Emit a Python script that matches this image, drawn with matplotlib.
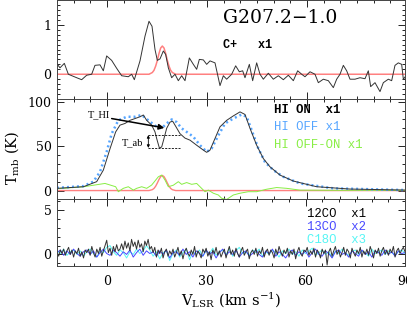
import numpy as np
import matplotlib
matplotlib.use("Agg")
import matplotlib.pyplot as plt
from matplotlib.ticker import MultipleLocator

plt.rcParams['font.family'] = ['DejaVu Serif']
plt.rcParams['mathtext.fontset'] = 'dejavuserif'

# ---------------- data ----------------
# C+ spectrum (top panel)
cp_v = [-14.9,-14.1,-12.8,-11.6,-9.1,-7.6,-6.1,-4.6,-3.6,-2.1,-1.1,-0.1,1.4,2.9,4.4,6.4,7.4,8.2,
        9.9,11.4,12.6,13.5,14.4,15.1,15.9,16.9,17.6,18.4,19.4,20.4,21.4,22.4,23.4,24.7,25.9,26.9,
        27.7,28.9,29.9,30.9,32.4,33.9,34.9,35.9,37.4,38.6,39.7,40.7,41.4,42.7,43.7,44.9,45.9,46.9,
        48.4,49.9,51.4,52.9,54.4,55.9,57.2,58.4,59.4,60.9,62.4,63.4,64.9,66.4,67.9,68.9,69.9,70.9,
        71.9,72.9,74.4,75.9,77.4,78.4,79.1,80.4,81.9,82.9,84.4,85.4,86.4,87.4,88.4,88.9,89.7]
cp_t = [0.20,0.13,0.22,0.0,-0.07,-0.11,-0.02,0.0,0.18,0.19,0.07,0.37,0.28,0.12,-0.03,-0.05,0.0,-0.11,
        0.27,0.77,1.07,0.97,0.50,0.28,0.31,0.47,0.40,0.13,-0.07,0.0,-0.13,-0.03,-0.13,0.33,0.20,0.10,
        0.30,0.29,0.20,0.27,0.23,-0.23,-0.03,-0.10,0.0,0.17,0.05,0.07,-0.07,0.20,-0.13,0.23,0.0,-0.10,
        0.02,-0.10,-0.03,-0.11,-0.02,-0.13,0.07,0.0,-0.05,0.05,0.0,-0.17,-0.10,-0.13,-0.27,-0.10,0.0,0.18,
        0.07,-0.10,-0.10,-0.07,-0.09,0.07,-0.25,-0.17,-0.35,-0.17,-0.10,-0.13,0.18,0.23,0.20,-0.10,-0.03]
fit_v = [-15, 12.6, 13.6, 14.1, 14.6, 15.1, 15.6, 16.1, 16.6, 17.1, 17.6, 18.1, 18.6, 19.1, 19.6, 20.6, 90]
cpfit_t = [0, 0, 0.035, 0.08, 0.165, 0.28, 0.42, 0.53, 0.57, 0.53, 0.42, 0.28, 0.165, 0.08, 0.035, 0, 0]
hifit_t = [0, 0, 1.0, 2.4, 4.9, 8.5, 12.5, 15.7, 17.0, 15.7, 12.5, 8.5, 4.9, 2.4, 1.0, 0, 0]

# HI ON
on_v = [-15,-7.1,-3.1,-1.1,0.9,2.6,3.9,5.4,6.9,8.4,9.9,10.9,11.9,13.4,14.4,14.9,15.7,16.4,17.1,17.9,
        18.9,19.7,20.7,21.9,23.4,24.9,26.9,28.9,29.9,30.9,32.4,33.9,35.9,37.9,39.9,41.4,42.9,44.9,46.9,
        48.9,51.9,55.9,62.9,72.9,90]
on_t = [2.5,4.3,10,23,47,66,73.6,75.5,79,81,83,85,79,73.6,66,58.6,48,49,58.6,70,
        77,78,71.7,64,59,56.7,51,45.5,43,45.5,58.6,71.7,79,84,88.5,85.6,70,51,36,
        26.7,17.4,10.7,4.3,1.7,0.5]
# HI OFF
off_v = [-15,-7.1,-4.1,-2.1,-0.1,1.4,3.4,5.9,8.4,10.4,12.4,14.9,16.4,17.9,19.4,20.9,22.4,23.9,25.9,
         27.9,29.9,31.4,33.4,35.4,37.9,40.4,41.9,43.4,45.4,47.4,49.9,52.9,57.9,67.9,90]
off_t = [3,5,10,21,43.6,64,79,83,83,85,79,71.7,70,75.5,80,77,70,66,60.5,
         51,43.6,47.4,62,75.5,81,85.6,83,68,47.4,32,23,15.5,8,2.5,0.5]
# HI OFF-ON
dif_v = [-15,-7,-0.6,2.6,3.4,4.9,6.4,7.9,8.9,10.4,11.9,13.4,15.4,16.4,17.4,18.4,19.9,21.4,22.4,23.9,
         25.4,26.9,27.9,29.4,30.4,31.9,33.4,34.4,35.9,37.9,39.9,42.4,44.9,47.9,50.9,53.9,57.9,70,90]
dif_t = [2,4.3,8,4.3,-1.3,2.5,4.3,0.5,2.5,4.3,2.5,6.2,15.5,17.4,11.8,4.3,6,10,7,9,
         7,8,4.3,-1.3,0.5,-3,-5,-8.7,-10,-5,-3,-1.3,-1.3,1.5,3.4,2.5,0.5,0.3,0.3]

# CO lines (bottom panel)
co12_v = list(np.arange(-15, 90.01, 0.5))
co12_t = [0.3,-0.2,0.5,0.1,0.6,-0.1,0.4,0.8,0.0,0.5,
          -0.3,0.4,0.1,0.7,-0.2,0.3,-0.4,0.5,0.2,0.6,
          -0.1,0.9,0.2,-0.3,0.6,0.1,0.8,-0.2,0.4,1.0,
          1.6,0.2,0.7,-0.1,0.9,0.3,1.1,0.4,0.6,1.2,
          0.5,1.5,0.7,1.3,0.4,1.7,0.9,1.4,0.6,1.6,
          0.8,1.2,0.3,1.5,1.0,1.7,0.6,0.9,0.2,0.8,
          -0.3,0.5,0.1,0.7,-0.4,0.3,0.6,-0.2,0.4,0.0,
          0.6,-0.3,0.2,0.8,-0.1,0.4,-0.5,0.3,0.7,0.1,
          -0.2,0.5,0.0,0.9,-0.3,0.4,0.1,-0.4,0.6,0.2,
          0.7,-0.2,0.3,-0.6,0.5,0.1,0.8,-0.1,0.4,-0.3,
          0.2,0.6,-0.4,0.3,0.9,0.0,0.5,-0.2,0.7,0.1,
          -0.3,0.4,0.8,-0.1,0.3,0.6,-0.5,0.2,0.5,0.0,
          0.7,-0.2,0.4,0.1,0.8,-0.3,0.3,0.6,-0.1,0.5,
          0.2,-0.4,0.6,0.0,0.9,0.3,-0.2,0.5,0.1,0.7,
          -0.3,0.4,0.0,0.6,-0.5,0.3,0.8,0.1,-0.2,0.5,
          0.3,0.8,-0.1,0.4,0.0,0.7,-0.3,0.5,0.2,-0.4,
          0.6,0.1,0.5,-1.2,0.3,0.7,-0.2,0.4,0.9,0.0,
          0.5,-0.3,0.2,0.8,-0.1,0.6,0.3,-0.4,0.7,0.2,
          -0.2,0.5,0.1,0.8,-0.3,0.4,0.0,0.6,-0.1,0.9,
          0.3,-0.4,0.5,0.1,0.7,-0.2,0.4,0.8,0.0,0.5,
          -0.1,0.6,0.2,0.9,-0.3,0.4,0.7,0.1,0.5,0.8,
          0.3]
co_v = list(np.arange(-15, 90.01, 1.0))
co13_t = [0.2,0.5,-0.1,0.4,0.0,0.6,0.1,-0.2,0.3,0.5,
          0.0,0.4,-0.3,0.2,0.6,0.1,-0.1,0.5,0.2,-0.2,
          0.3,0.0,0.5,-0.3,0.2,0.6,-0.1,0.4,0.1,0.3,
          -0.2,0.4,0.0,0.5,-0.4,0.2,0.3,-0.1,0.6,0.0,
          0.3,-0.3,0.4,0.1,-0.2,0.5,0.0,0.3,-0.4,0.2,
          0.6,-0.1,0.3,0.0,0.5,-0.3,0.2,0.4,-0.2,0.1,
          0.5,0.0,-0.3,0.4,0.1,0.6,-0.2,0.3,0.0,-0.4,
          0.2,0.5,-0.1,0.3,0.0,0.4,-0.3,0.2,0.6,0.0,
          -0.2,0.4,0.1,-0.4,0.3,0.5,0.0,0.2,-0.3,0.4,
          0.1,-0.2,0.5,0.0,0.3,-0.3,0.4,0.2,-0.1,0.5,
          0.0,0.3,-0.2,0.4,0.1,0.2]
c18o_t = [0.4,0.1,0.6,-0.1,0.3,0.5,0.0,0.4,-0.2,0.3,
          0.6,0.1,-0.3,0.4,0.2,0.8,1.0,0.3,-0.1,0.5,
          0.2,-0.4,0.3,0.0,0.6,0.1,0.4,1.0,0.5,-0.2,
          0.3,-0.5,0.2,0.4,-0.7,0.1,0.5,-0.3,0.2,0.6,
          -0.6,0.3,0.0,0.5,-0.2,0.4,0.1,0.7,-0.1,0.3,
          0.5,0.0,0.6,-0.2,0.4,0.8,0.1,0.3,-0.1,0.5,
          0.2,0.6,-0.2,0.3,0.0,0.5,0.2,-0.3,0.4,0.1,
          0.6,0.0,0.3,-0.2,0.5,0.1,0.4,0.7,-0.1,0.2,
          0.5,0.0,0.3,-0.3,0.4,0.1,0.6,0.2,-0.1,0.3,
          0.5,0.0,0.4,0.2,-0.2,0.6,0.1,0.3,0.5,0.0,
          0.4,0.2,-0.1,0.3,0.5,0.1]

x_ticks = [0, 30, 60, 90]

# ---------------- figure ----------------
W, H = 407, 309
fig = plt.figure(figsize=(W/100, H/100), dpi=100)

def fr(x0, y0, x1, y1):
    return [x0/W, 1-y1/H, (x1-x0)/W, (y1-y0)/H]

ax1 = fig.add_axes(fr(57, 0, 405, 99))
ax2 = fig.add_axes(fr(57, 99, 405, 199))
ax3 = fig.add_axes(fr(57, 199, 405, 265.5))

BLK = '#333333'
RED = '#ff8080'
LB = '#55a5ff'
GRN = '#88ee44'
B13 = '#4848ff'
CYN = '#55f5f5'

ax1.plot(fit_v, cpfit_t, color=RED, lw=1.1)
ax1.plot(cp_v, cp_t, color=BLK, lw=0.7)
ax1.set_ylim(-0.5, 1.5)

ax2.plot(fit_v, hifit_t, color=RED, lw=1.0)
ax2.plot(dif_v, dif_t, color=GRN, lw=0.7)
ax2.plot(off_v, off_t, color=LB, lw=1.8, ls=(0, (0.8, 1.2)))
ax2.plot(on_v, on_t, color=BLK, lw=0.7)
ax2.set_ylim(-9.5, 103)

ax3.plot(co_v, c18o_t, color=CYN, lw=0.7)
ax3.plot(co_v, co13_t, color=B13, lw=0.7)
ax3.plot(co12_v, co12_t, color=BLK, lw=0.7)
ax3.set_ylim(-1.25, 6.25)

for ax in (ax1, ax2, ax3):
    ax.set_xlim(-15, 89.4)
    ax.xaxis.set_major_locator(MultipleLocator(30))
    ax.xaxis.set_minor_locator(MultipleLocator(5))
    ax.tick_params(which='both', direction='in', top=True, right=True, width=0.6, labelsize=9)
    ax.tick_params(which='major', length=5)
    ax.tick_params(which='minor', length=2.5)
    ax.tick_params(axis='y', pad=4)
    for s in ax.spines.values():
        s.set_linewidth(0.7)
        s.set_color('#444444')
    if ax is not ax3:
        ax.tick_params(labelbottom=False)

ax1.yaxis.set_major_locator(MultipleLocator(1))
ax1.yaxis.set_minor_locator(MultipleLocator(0.1))
ax2.yaxis.set_major_locator(MultipleLocator(50))
ax2.yaxis.set_minor_locator(MultipleLocator(10))
ax3.yaxis.set_major_locator(MultipleLocator(5))
ax3.yaxis.set_minor_locator(MultipleLocator(1))
ax3.set_xticks(x_ticks)
ax3.set_xticklabels([str(t) for t in x_ticks])
ax3.tick_params(axis='x', pad=7)

# texts
ax1.text(34.8, 1.14, 'G207.2\u22121.0', fontsize=13.5, ha='left', va='center')
ax1.text(34.8, 0.60, 'C+   x1', fontsize=8.5, ha='left', va='center',
         family='Liberation Mono', weight='bold')

mono = dict(fontsize=8.8, ha='left', va='center', family='Liberation Mono')
ax2.text(50.1, 90.4, 'HI ON  x1', color='black', weight='bold', **mono)
ax2.text(50.1, 71.3, 'HI OFF x1', color=LB, **mono)
ax2.text(50.1, 51.0, 'HI OFF-ON x1', color=GRN, **mono)

ax3.text(60.3, 4.6, '12CO  x1', color='black', **mono)
ax3.text(60.3, 3.1, '13CO  x2', color=B13, **mono)
ax3.text(60.3, 1.6, 'C18O  x3', color=CYN, **mono)

# annotations
ax2.annotate('', xy=(17.2, 70.5), xytext=(1.4, 81.0),
             arrowprops=dict(arrowstyle='-|>', color='black', lw=1.1,
                             mutation_scale=8, shrinkA=0, shrinkB=0))
ax2.text(0.9, 84.8, 'T_HI', fontsize=7.5, family='Liberation Serif', ha='right', va='center')
ax2.plot([12.4, 22.0], [62.4, 62.4], color='black', lw=0.6, ls=(0, (2.5, 1.5)))
ax2.plot([12.4, 22.0], [48.0, 48.0], color='black', lw=0.6, ls=(0, (2.5, 1.5)))
ax2.annotate('', xy=(12.4, 62.4), xytext=(12.4, 48.0),
             arrowprops=dict(arrowstyle='<|-|>', color='black', lw=0.6,
                             mutation_scale=4, shrinkA=0, shrinkB=0))
ax2.text(10.9, 53.7, 'T_ab', fontsize=7.5, family='Liberation Serif', ha='right', va='center')

fig.text(12/W, 1-158/H, r'T$_{\rm mb}$ (K)', rotation=90, ha='center', va='center', fontsize=10.5)
fig.text(231/W, 1-300/H, r'V$_{\rm LSR}$ (km s$^{-1}$)', ha='center', va='center', fontsize=10.5)

fig.savefig('out.png', dpi=100)
